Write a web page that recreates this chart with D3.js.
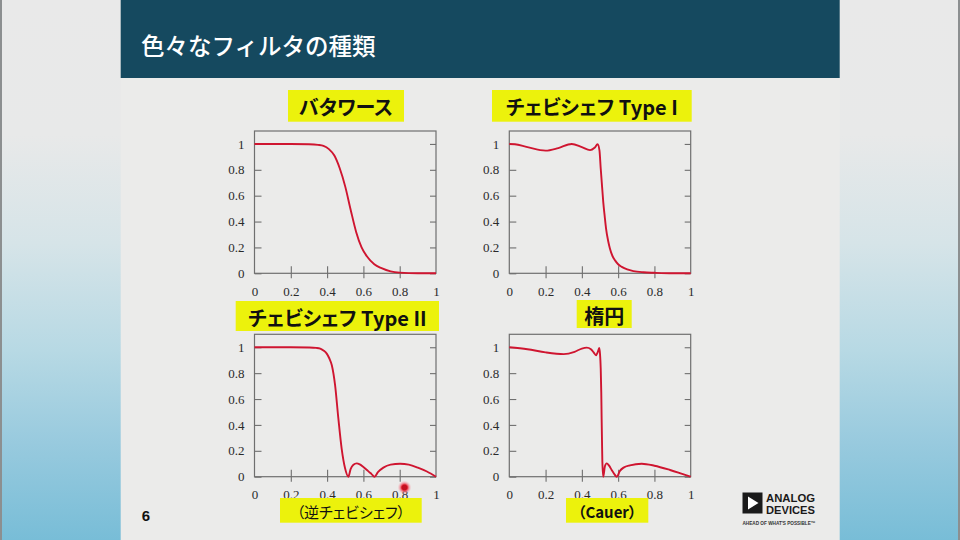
<!DOCTYPE html>
<html><head><meta charset="utf-8">
<script src="https://cdn.jsdelivr.net/npm/d3@7/dist/d3.min.js"></script>
<style>
html,body{margin:0;padding:0;background:#e9e9e9;}
svg{display:block;}
</style></head>
<body>
<svg id="chart" width="960" height="540"></svg>
<script>
// ---------- data ----------
const slideTitle = "色々なフィルタの種類";
const panelTitles = ["バタワース", "チェビシェフ Type I", "チェビシェフ Type II", "楕円"];
const panelNotes = ["", "", "（逆チェビシェフ）", "（Cauer）"];
const xTicks = [0, 0.2, 0.4, 0.6, 0.8, 1];
const yTicks = [0, 0.2, 0.4, 0.6, 0.8, 1];
const pageNumber = "6";

const butterX = [0,0.1,0.2,0.3,0.35,0.38,0.41,0.44,0.47,0.5,0.53,0.56,0.59,0.62,0.66,0.7,0.75,0.8,0.9,1];
const butterY = [1,1,1,0.998,0.993,0.985,0.96,0.91,0.81,0.67,0.49,0.32,0.2,0.13,0.07,0.04,0.015,0.005,0,0];

const cheb1X = [0,0.03,0.1,0.2,0.27,0.344,0.4,0.445,0.47,0.487,0.497,0.504,0.512,0.518,0.526,0.533,0.545,0.555,0.57,0.583,0.6,0.62,0.65,0.684,0.74,0.8,0.9,1];
const cheb1Y = [1,0.998,0.975,0.948,0.968,1.0,0.975,0.952,0.97,0.998,0.95,0.81,0.66,0.55,0.44,0.35,0.25,0.19,0.13,0.1,0.07,0.05,0.03,0.017,0.008,0.004,0,0];

const cheb2X = [0,0.1,0.2,0.3,0.34,0.362,0.38,0.398,0.412,0.426,0.444,0.462,0.48,0.499,0.517,0.53,0.545,0.563,0.58,0.6,0.625,0.645,0.661,0.68,0.71,0.75,0.802,0.85,0.9,0.95,1];
const cheb2Y = [1,1,1,0.998,0.995,0.99,0.975,0.951,0.915,0.861,0.707,0.45,0.219,0.065,0,0.06,0.092,0.103,0.095,0.075,0.045,0.02,0,0.035,0.07,0.093,0.1,0.093,0.07,0.04,0];

const ellipX = [0,0.1,0.2,0.3,0.36,0.4,0.427,0.45,0.465,0.478,0.487,0.496,0.5,0.504,0.507,0.509,0.511,0.513,0.518,0.527,0.537,0.55,0.565,0.58,0.592,0.61,0.63,0.665,0.73,0.8,0.886,0.94,1];
const ellipY = [1,0.985,0.96,0.947,0.965,0.99,0.997,0.985,0.96,0.938,0.96,0.995,0.95,0.836,0.65,0.45,0.28,0.116,0,0.08,0.103,0.085,0.05,0.018,0,0.045,0.07,0.088,0.1,0.085,0.052,0.028,0];

const seriesX = [butterX, cheb1X, cheb2X, ellipX];
const seriesY = [butterY, cheb1Y, cheb2Y, ellipY];

// ---------- layout ----------
const panels = [
  {l:254.5, r:436,   top:131,   y0:273.3, title:[288,90,404,121.7],   note:null},
  {l:509.3, r:690.7, top:131,   y0:273.3, title:[492,90,691.7,121.7], note:null},
  {l:254.5, r:436,   top:334.3, y0:476.7, title:[235.7,301,439,331],  note:[280,498,421.7,522.7]},
  {l:509.3, r:690.7, top:334.3, y0:476.7, title:[576.7,300,631.7,328], note:[566,498,648.3,522.7]}
];

const svg = d3.select("#chart");
const defs = svg.append("defs");
const g1 = defs.append("linearGradient").attr("id","gut").attr("x1",0).attr("y1",0).attr("x2",0).attr("y2",1);
[["0%","#e9e9e9"],["25%","#e8e9e9"],["45%","#d6e4e8"],["65%","#b7d9e4"],["82%","#98cade"],["100%","#78bdd7"]]
  .forEach(s=>g1.append("stop").attr("offset",s[0]).attr("stop-color",s[1]));
const rg = defs.append("radialGradient").attr("id","laser");
[["0%","#e0202a",1],["45%","#e83040",0.95],["70%","#f07080",0.5],["100%","#f8b0b8",0]]
  .forEach(s=>rg.append("stop").attr("offset",s[0]).attr("stop-color",s[1]).attr("stop-opacity",s[2]));

// background gutters
svg.append("rect").attr("x",0).attr("y",0).attr("width",960).attr("height",540).attr("fill","url(#gut)");
svg.append("rect").attr("x",0).attr("y",0).attr("width",2).attr("height",540).attr("fill","#8c8f90");
svg.append("rect").attr("x",958).attr("y",0).attr("width",2).attr("height",540).attr("fill","#8c8f90");
// slide
svg.append("rect").attr("x",120.7).attr("y",0).attr("width",719).attr("height",540).attr("fill","#ebebea");
svg.append("rect").attr("x",120.7).attr("y",0).attr("width",719).attr("height",78).attr("fill","#15495f");
svg.append("text").attr("x",141).attr("y",45).attr("dominant-baseline","central")
  .attr("font-family","'Noto Sans CJK JP', sans-serif").attr("font-weight",500)
  .attr("font-size",23.5).attr("fill","#ffffff").text(slideTitle);

const jp = "'Noto Sans CJK JP', 'Noto Sans', sans-serif";
function yellowLabel(box, txt, size, weight){
  svg.append("rect").attr("x",box[0]).attr("y",box[1]).attr("width",box[2]-box[0]).attr("height",box[3]-box[1]).attr("fill","#ecf20c");
  svg.append("text").attr("x",(box[0]+box[2])/2).attr("y",(box[1]+box[3])/2+1)
    .attr("text-anchor","middle").attr("dominant-baseline","central")
    .attr("font-family",jp).attr("font-weight",weight).attr("font-size",size)
    .style("font-feature-settings","'palt'")
    .attr("fill","#111").text(txt);
}

panels.forEach((p,i)=>{
  const x = d3.scaleLinear().domain([0,1]).range([p.l,p.r]);
  const y = d3.scaleLinear().domain([0,1.1]).range([p.y0,p.top]);
  const g = svg.append("g");
  const frameColor = "#6f6f6f";
  g.append("rect").attr("x",p.l).attr("y",p.top).attr("width",p.r-p.l).attr("height",p.y0-p.top)
    .attr("fill","none").attr("stroke",frameColor).attr("stroke-width",1.2);
  const yl = g.append("g").attr("transform",`translate(${p.l},0)`)
    .call(d3.axisLeft(y).tickValues(yTicks).tickSizeInner(-7).tickSizeOuter(0).tickPadding(10).tickFormat(d3.format("~g")));
  const yr = g.append("g").attr("transform",`translate(${p.r},0)`)
    .call(d3.axisRight(y).tickValues(yTicks).tickSizeInner(-6).tickSizeOuter(0).tickFormat(""));
  const xb = g.append("g").attr("transform",`translate(0,${p.y0})`)
    .call(d3.axisBottom(x).tickValues(xTicks).tickSizeInner(4).tickSizeOuter(0).tickPadding(9).tickFormat(d3.format("~g")));
  xb.selectAll(".tick line").attr("y1",-7).attr("y2",5);
  [yl,yr,xb].forEach(a=>{
    a.select(".domain").remove();
    a.selectAll(".tick line").attr("stroke",frameColor).attr("stroke-width",1.1);
    a.selectAll(".tick text").attr("fill","#2a2a2a").attr("font-family","'Liberation Serif','DejaVu Serif',serif").attr("font-size",13);
  });
  xb.selectAll(".tick").filter(d=>d===0||d===1).select("line").remove();
  const pts = seriesX[i].map((v,k)=>[v, seriesY[i][k]]);
  const line = d3.line().x(d=>x(d[0])).y(d=>y(d[1])).curve(d3.curveMonotoneX);
  g.append("path").attr("d",line(pts)).attr("fill","none").attr("stroke","#cf1530").attr("stroke-width",1.9).attr("stroke-linejoin","round");
  yellowLabel(p.title, panelTitles[i], 20, 700);
  if (p.note) yellowLabel(p.note, panelNotes[i], 15, i===3?700:400);
});

// laser pointer dot
svg.append("circle").attr("cx",404.5).attr("cy",487.5).attr("r",7).attr("fill","url(#laser)");
svg.append("circle").attr("cx",404.5).attr("cy",487.5).attr("r",2.8).attr("fill","#c41020");

// page number
svg.append("text").attr("x",146).attr("y",515).attr("text-anchor","middle").attr("dominant-baseline","central")
  .attr("font-family","'Liberation Sans', Arial, sans-serif").attr("font-weight",700).attr("font-size",15).attr("fill","#111").text(pageNumber);

// logo
const logo = svg.append("g");
logo.append("rect").attr("x",742.5).attr("y",492.5).attr("width",20).attr("height",21).attr("fill","#1a1a1a");
logo.append("path").attr("d","M748,496.5 L758.5,503 L748,509.5 Z").attr("fill","#ffffff");
logo.append("text").attr("x",766).attr("y",501.8).attr("font-family","'Liberation Sans', Arial, sans-serif")
  .attr("font-weight",700).attr("font-size",10.8).attr("fill","#1a1a1a").attr("textLength",49).attr("lengthAdjust","spacingAndGlyphs").text("ANALOG");
logo.append("text").attr("x",766).attr("y",514.2).attr("font-family","'Liberation Sans', Arial, sans-serif")
  .attr("font-weight",700).attr("font-size",10.8).attr("fill","#1a1a1a").attr("textLength",49).attr("lengthAdjust","spacingAndGlyphs").text("DEVICES");
logo.append("text").attr("x",742.5).attr("y",524.5).attr("font-family","'Liberation Sans', Arial, sans-serif")
  .attr("font-weight",700).attr("font-size",5.4).attr("fill","#333").attr("textLength",73).attr("lengthAdjust","spacingAndGlyphs").text("AHEAD OF WHAT'S POSSIBLE™");
</script>
</body></html>
